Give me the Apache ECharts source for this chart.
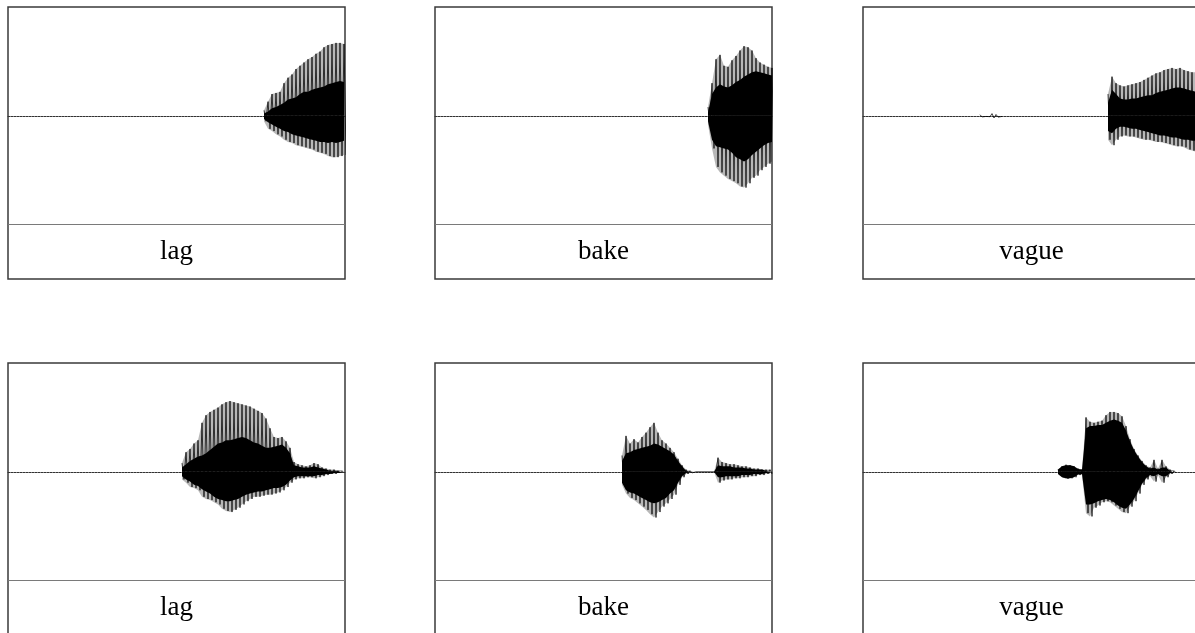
<!DOCTYPE html>
<html>
<head>
<meta charset="utf-8">
<script src="https://cdn.jsdelivr.net/npm/echarts@6/dist/echarts.min.js"></script>
<style>
  html, body { margin: 0; padding: 0; background: #fff; }
  #chart { width: 1195px; height: 633px; }
</style>
</head>
<body>
<div id="chart"></div>
<script>
// ---- data (time in ms, amplitude normalised; each panel spans 0..674 ms) ----
const labels = ['lag', 'bake', 'vague', 'lag', 'bake', 'vague'];
const timeMax = 674;
const dt = 8; // ms between successive envelope readings

// top row
const lag1Start = 512;
const lag1Up     = [0.05,0.13,0.20,0.21,0.22,0.30,0.35,0.38,0.43,0.46,0.49,0.52,0.54,0.57,0.59,0.63,0.65,0.66,0.67,0.67,0.66];
const lag1Dn     = [-0.05,-0.12,-0.14,-0.17,-0.19,-0.22,-0.24,-0.25,-0.27,-0.28,-0.29,-0.30,-0.31,-0.33,-0.34,-0.35,-0.37,-0.38,-0.38,-0.37,-0.36];
const lag1CoreUp = [0.02,0.04,0.07,0.08,0.10,0.12,0.15,0.16,0.17,0.20,0.22,0.22,0.24,0.25,0.26,0.27,0.29,0.30,0.31,0.32,0.31];
const lag1CoreDn = [-0.03,-0.06,-0.08,-0.10,-0.12,-0.14,-0.15,-0.17,-0.18,-0.19,-0.20,-0.21,-0.22,-0.23,-0.24,-0.24,-0.25,-0.24,-0.25,-0.24,-0.23];

const bake1Start = 546;
const bake1Up     = [0.08,0.30,0.52,0.56,0.46,0.45,0.51,0.55,0.60,0.64,0.63,0.60,0.53,0.49,0.47,0.45,0.44];
const bake1Dn     = [-0.08,-0.30,-0.47,-0.52,-0.55,-0.58,-0.60,-0.62,-0.65,-0.66,-0.62,-0.57,-0.55,-0.50,-0.47,-0.44,-0.42];
const bake1CoreUp = [0.03,0.20,0.26,0.29,0.27,0.26,0.28,0.31,0.33,0.36,0.38,0.40,0.41,0.40,0.39,0.38,0.37];
const bake1CoreDn = [-0.05,-0.22,-0.28,-0.29,-0.30,-0.31,-0.34,-0.38,-0.40,-0.42,-0.40,-0.36,-0.33,-0.30,-0.27,-0.25,-0.24];

const vague1BlipStart = 234;
const vague1BlipUp = [0.01,0.006,0.008,0.02,0.012,0.006];
const vague1BlipDn = [-0.01,-0.006,-0.008,-0.02,-0.012,-0.006];
const vague1Start = 490;
const vague1Up     = [0.20,0.36,0.30,0.28,0.27,0.28,0.29,0.30,0.31,0.33,0.35,0.37,0.39,0.40,0.42,0.43,0.44,0.43,0.44,0.42,0.41,0.40,0.40,0.39];
const vague1Dn     = [-0.22,-0.27,-0.22,-0.19,-0.18,-0.19,-0.19,-0.20,-0.21,-0.22,-0.22,-0.23,-0.24,-0.24,-0.25,-0.26,-0.27,-0.28,-0.28,-0.29,-0.31,-0.32,-0.33,-0.33];
const vague1CoreUp = [0.12,0.24,0.20,0.16,0.15,0.15,0.16,0.16,0.17,0.18,0.19,0.19,0.21,0.22,0.23,0.24,0.25,0.26,0.26,0.25,0.24,0.23,0.22,0.22];
const vague1CoreDn = [-0.14,-0.16,-0.12,-0.10,-0.10,-0.11,-0.12,-0.12,-0.13,-0.14,-0.15,-0.16,-0.17,-0.18,-0.18,-0.19,-0.20,-0.20,-0.21,-0.22,-0.22,-0.23,-0.23,-0.23];

// bottom row
const lag2Start = 348;
const lag2Up     = [0.08,0.18,0.21,0.26,0.29,0.45,0.52,0.55,0.57,0.59,0.62,0.64,0.65,0.64,0.63,0.62,0.61,0.60,0.58,0.56,0.54,0.49,0.40,0.32,0.31,0.32,0.28,0.22,0.09,0.07,0.06,0.05,0.06,0.08,0.07,0.04,0.03,0.02,0.02,0.01,0.01];
const lag2Dn     = [-0.07,-0.10,-0.14,-0.15,-0.17,-0.23,-0.25,-0.26,-0.28,-0.30,-0.34,-0.36,-0.37,-0.35,-0.33,-0.30,-0.27,-0.25,-0.23,-0.23,-0.22,-0.21,-0.21,-0.20,-0.19,-0.17,-0.14,-0.10,-0.07,-0.06,-0.06,-0.05,-0.05,-0.06,-0.05,-0.04,-0.03,-0.02,-0.02,-0.01,-0.01];
const lag2CoreUp = [0.04,0.07,0.10,0.12,0.14,0.15,0.17,0.20,0.23,0.26,0.27,0.29,0.29,0.30,0.31,0.32,0.31,0.29,0.27,0.26,0.24,0.22,0.22,0.23,0.24,0.25,0.22,0.17,0.06,0.05,0.04,0.04,0.04,0.05,0.04,0.03,0.02,0.01,0.01,0.01,0.01];
const lag2CoreDn = [-0.04,-0.07,-0.09,-0.12,-0.13,-0.16,-0.18,-0.20,-0.23,-0.25,-0.26,-0.27,-0.27,-0.26,-0.25,-0.23,-0.21,-0.20,-0.19,-0.18,-0.18,-0.17,-0.16,-0.15,-0.15,-0.14,-0.12,-0.08,-0.05,-0.04,-0.04,-0.04,-0.04,-0.04,-0.03,-0.03,-0.02,-0.02,-0.01,-0.01,-0.01];

const bake2Start = 374;
const bake2Up     = [0.15,0.33,0.26,0.30,0.27,0.32,0.36,0.41,0.45,0.36,0.29,0.26,0.22,0.18,0.12,0.06,0.02,0.01,0,0,0,0,0,0,0.13,0.09,0.08,0.07,0.07,0.06,0.05,0.05,0.04,0.03,0.03,0.02,0.02,0.02];
const bake2Dn     = [-0.12,-0.20,-0.24,-0.26,-0.29,-0.32,-0.35,-0.39,-0.42,-0.37,-0.32,-0.29,-0.25,-0.21,-0.12,-0.05,-0.02,-0.01,0,0,0,0,0,0,-0.10,-0.08,-0.07,-0.07,-0.06,-0.06,-0.05,-0.05,-0.04,-0.04,-0.03,-0.03,-0.02,-0.02];
const bake2CoreUp = [0.10,0.17,0.18,0.20,0.21,0.22,0.23,0.24,0.26,0.25,0.23,0.21,0.19,0.16,0.10,0.05,0.01,0,0,0,0,0,0,0,0.06,0.05,0.05,0.05,0.04,0.04,0.04,0.03,0.03,0.02,0.02,0.02,0.01,0.01];
const bake2CoreDn = [-0.10,-0.17,-0.19,-0.20,-0.22,-0.24,-0.26,-0.28,-0.29,-0.28,-0.26,-0.24,-0.20,-0.17,-0.10,-0.04,-0.01,0,0,0,0,0,0,0,-0.05,-0.05,-0.04,-0.04,-0.04,-0.04,-0.03,-0.03,-0.03,-0.02,-0.02,-0.02,-0.01,-0.01];

const vague2Start = 390;
const vague2Up     = [0.02,0.05,0.065,0.06,0.05,0.03,0.02,0.50,0.46,0.45,0.46,0.47,0.52,0.55,0.55,0.54,0.51,0.42,0.30,0.21,0.15,0.10,0.06,0.04,0.11,0.03,0.11,0.05,0.02,0.01];
const vague2Dn     = [-0.02,-0.05,-0.065,-0.06,-0.05,-0.03,-0.03,-0.38,-0.41,-0.33,-0.31,-0.28,-0.27,-0.28,-0.31,-0.34,-0.37,-0.38,-0.32,-0.27,-0.20,-0.12,-0.07,-0.04,-0.09,-0.03,-0.10,-0.05,-0.02,-0.01];
const vague2CoreUp = [0.02,0.05,0.06,0.06,0.05,0.025,0.02,0.40,0.42,0.42,0.43,0.43,0.45,0.47,0.48,0.47,0.45,0.38,0.28,0.20,0.14,0.09,0.05,0.03,0.04,0.02,0.04,0.04,0.01,0.01];
const vague2CoreDn = [-0.02,-0.05,-0.06,-0.06,-0.05,-0.025,-0.02,-0.30,-0.30,-0.29,-0.27,-0.26,-0.25,-0.26,-0.28,-0.31,-0.33,-0.34,-0.30,-0.25,-0.18,-0.11,-0.06,-0.03,-0.04,-0.02,-0.04,-0.04,-0.01,-0.01];

// ---- layout ----
const panelLeft = [8, 435, 863, 8, 435, 863];
const panelTop  = [7, 7, 7, 363, 363, 363];
const panelW = 337, panelH = 272;

const panels = [
  [[lag1Start, lag1Up, lag1Dn, lag1CoreUp, lag1CoreDn]],
  [[bake1Start, bake1Up, bake1Dn, bake1CoreUp, bake1CoreDn]],
  [[vague1BlipStart, vague1BlipUp, vague1BlipDn, null, null], [vague1Start, vague1Up, vague1Dn, vague1CoreUp, vague1CoreDn]],
  [[lag2Start, lag2Up, lag2Dn, lag2CoreUp, lag2CoreDn]],
  [[bake2Start, bake2Up, bake2Dn, bake2CoreUp, bake2CoreDn]],
  [[vague2Start, vague2Up, vague2Dn, vague2CoreUp, vague2CoreDn]]
];

function spikes(start, up, dn) {
  const pts = [];
  up.forEach((u, i) => {
    pts.push([start + i * dt, u]);
    pts.push([start + i * dt + dt / 2, dn[i]]);
  });
  return pts;
}
function envelope(start, arr) {
  return arr.map((v, i) => [start + i * dt, v]);
}
function areaSeries(p, data, color, opacity) {
  return { type: 'line', xAxisIndex: p, yAxisIndex: p, data: data,
    showSymbol: false, symbol: 'none', animation: false, silent: true,
    lineStyle: { width: 0 }, areaStyle: { color: color, opacity: opacity } };
}

const grids = [], xAxes = [], yAxes = [], series = [], graphics = [];
panels.forEach((segs, p) => {
  grids.push({ left: panelLeft[p], top: panelTop[p], width: panelW, height: panelH,
    show: true, borderColor: '#3a3a3a', borderWidth: 1.5,
    containLabel: false, outerBoundsMode: 'none' });
  xAxes.push({ gridIndex: p, type: 'value', min: 0, max: timeMax,
    axisLine: { show: true, onZero: true, lineStyle: { color: '#333', width: 1, type: [2, 1] } },
    axisTick: { show: false }, axisLabel: { show: false }, splitLine: { show: false } });
  yAxes.push({ gridIndex: p, type: 'value', min: -1.5, max: 1, show: false,
    splitLine: { show: false } });
  segs.forEach((s) => {
    const [start, up, dn, cu, cd] = s;
    if (cu) {
      // faint fill of the spike envelope (dense oscillation texture)
      series.push(areaSeries(p, envelope(start, up), '#000', 0.28));
      series.push(areaSeries(p, envelope(start, dn), '#000', 0.28));
    }
    series.push({ type: 'line', xAxisIndex: p, yAxisIndex: p, data: spikes(start, up, dn),
      showSymbol: false, symbol: 'none', animation: false, silent: true,
      lineStyle: { color: '#000', width: 1, opacity: 0.75 } });
    if (cu) {
      series.push(areaSeries(p, envelope(start, cu), '#000', 1));
      series.push(areaSeries(p, envelope(start, cd), '#000', 1));
    }
  });
  // divider between waveform and label area
  series.push({ type: 'line', xAxisIndex: p, yAxisIndex: p, data: [], silent: true, animation: false,
    markLine: { silent: true, symbol: 'none', animation: false, label: { show: false },
      lineStyle: { color: '#7a7a7a', width: 1, type: 'solid' }, data: [{ yAxis: -1 }] } });
  graphics.push({ type: 'text', x: panelLeft[p] + panelW / 2, y: panelTop[p] + 245,
    silent: true,
    style: { text: labels[p], fill: '#000', font: '27px "Liberation Serif", "Times New Roman", serif',
      align: 'center', verticalAlign: 'middle', textAlign: 'center', textVerticalAlign: 'middle' } });
});

const chart = echarts.init(document.getElementById('chart'), null, { renderer: 'canvas' });
chart.setOption({
  backgroundColor: '#fff',
  animation: false,
  grid: grids,
  xAxis: xAxes,
  yAxis: yAxes,
  series: series,
  graphic: graphics
});
</script>
</body>
</html>
